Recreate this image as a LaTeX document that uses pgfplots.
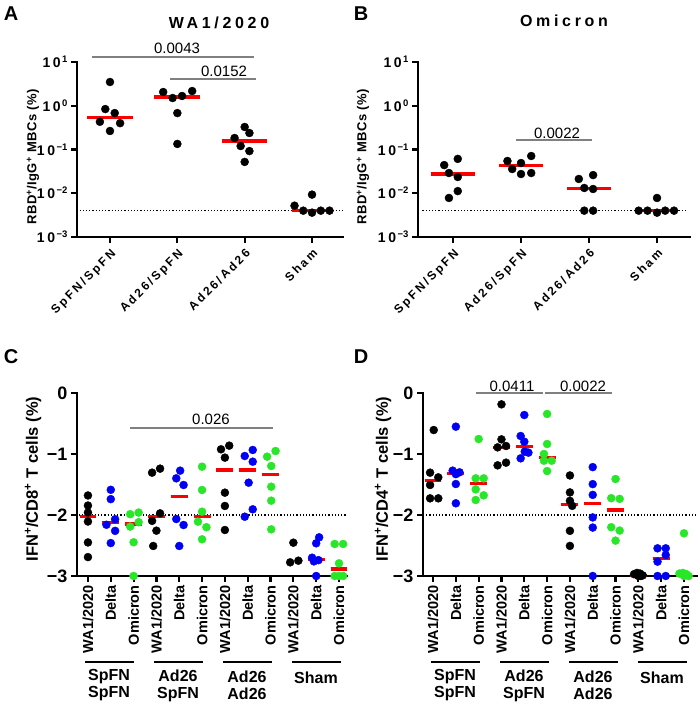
\documentclass[border=0pt]{standalone}
\usepackage{fontspec}
\setmainfont{Liberation Sans}
\newfontfamily\spfont[LetterSpace=20]{Liberation Sans}
\newfontfamily\lblfont[LetterSpace=4]{Liberation Sans}
\newfontfamily\ttlfont[LetterSpace=23]{Liberation Sans}
\usepackage{pgfplots}
\pgfplotsset{compat=1.18}

\definecolor{mblue}{RGB}{0,0,245}
\definecolor{mgreen}{RGB}{40,230,40}
\definecolor{mred}{RGB}{250,0,0}
\definecolor{sgray}{RGB}{128,128,128}

\newcommand{\med}[3]{\addplot[mred, line width=3.3pt, forget plot] coordinates {(#1,#3) (#2,#3)};}
\newcommand{\dec}[1]{\mbox{\fontsize{14}{16}\selectfont\bfseries 1\hspace{2.5pt}0\raisebox{5pt}{\fontsize{9.5}{10}\selectfont\,#1}}}

\pgfplotsset{
  mypanel/.style={
    scale only axis, anchor=south west, clip=false,
    axis x line*=bottom, axis y line*=left,
    axis line style={line width=2.4pt, -, line cap=rect},
    every tick/.style={black, line width=2.2pt},
    tick align=outside, major tick length=6pt,
  },
  myAB/.style={mypanel,
    ytick={1e-3,1e-2,1e-1,1,10},
    yticklabels={\dec{−3},\dec{−2},\dec{−1},\dec{0},\dec{1}},
    xtick={0,1,2,3},
    xticklabels={SpFN/SpFN,Ad26/SpFN,Ad26/Ad26,Sham},
    xticklabel style={rotate=45, anchor=north east, font=\fontsize{12}{14}\selectfont\spfont\bfseries},
    height=175pt,
  },
  myCD/.style={mypanel,
    ymin=-3, ymax=0, ytick={-3,-2,-1,0},
    yticklabels={−3,−2,−1,0},
    yticklabel style={font=\fontsize{18}{20}\selectfont\bfseries},
    xtick={0,...,11},
    xticklabels={WA1/2020,Delta,Omicron,WA1/2020,Delta,Omicron,WA1/2020,Delta,Omicron,WA1/2020,Delta,Omicron},
    xticklabel style={rotate=90, anchor=east, font=\fontsize{14.5}{16}\selectfont\bfseries},
    height=183pt,
  },
}

\begin{document}
\begin{tikzpicture}[x=1pt,y=1pt]
\useasboundingbox (0pt,0pt) rectangle (700pt,706pt);

% ---------- A ----------
\begin{axis}[myAB, ymode=log, ymin=1e-3, ymax=10, yminorticks=false,
  at={(77pt,469pt)}, width=266pt, xmin=-0.49, xmax=3.46]
\addplot[black, dotted, line width=1.2pt, forget plot] coordinates {(-0.45,0.004) (3.45,0.004)};
\addplot[only marks, mark=*, mark size=4pt, black] coordinates {
 (0,3.49) (-0.07,0.84) (0.07,0.68) (-0.15,0.43) (0.15,0.40) (0,0.265)
 (0.79,2.06) (0.93,1.5) (1.07,1.67) (1.22,2.17) (1,0.68) (1,0.134)
 (2,0.327) (2.07,0.238) (1.85,0.183) (1.94,0.12) (2.07,0.092) (2,0.052)
 (2.74,0.0052) (2.87,0.004) (3,0.0093) (3,0.0036) (3.13,0.004) (3.26,0.004)};
\med{-0.34}{0.34}{0.54}
\med{0.66}{1.34}{1.58}
\med{1.67}{2.33}{0.156}
\med{2.7}{3.3}{0.004}
\end{axis}

% ---------- B ----------
\begin{axis}[myAB, ymode=log, ymin=1e-3, ymax=10, yminorticks=false,
  at={(418pt,469pt)}, width=272pt, xmin=-0.515, xmax=3.485]
\addplot[black, dotted, line width=1.2pt, forget plot] coordinates {(-0.45,0.004) (3.45,0.004)};
\addplot[only marks, mark=*, mark size=4pt, black] coordinates {
 (-0.13,0.044) (0.07,0.061) (-0.06,0.029) (0.07,0.0235) (0.07,0.0112) (-0.06,0.0078)
 (0.8,0.0546) (0.87,0.0358) (1,0.049) (1.15,0.071) (1,0.0275) (1.15,0.029)
 (1.85,0.0212) (2.06,0.026) (1.93,0.0132) (2.06,0.0125) (1.93,0.004) (2.06,0.004)
 (2.73,0.004) (2.86,0.004) (3,0.0078) (3,0.0036) (3.12,0.004) (3.25,0.004)};
\med{-0.33}{0.33}{0.0275}
\med{0.67}{1.33}{0.0427}
\med{1.67}{2.33}{0.013}
\med{2.7}{3.3}{0.004}
\end{axis}

% ---------- C ----------
\begin{axis}[myCD, at={(77pt,130pt)}, width=270pt, xmin=-0.48, xmax=11.35]
\addplot[black, dotted, line width=1.2pt, forget plot] coordinates {(-0.4,-2) (11.35,-2)};
\addplot[only marks, mark=*, mark size=4pt, black] coordinates {
 (0,-1.68) (0,-1.845) (0,-1.96) (0,-2.107) (0,-2.45) (0,-2.69)
 (2.81,-1.306) (3.16,-1.24) (3.16,-1.973) (2.81,-2.096) (3,-2.257) (2.86,-2.508)
 (5.83,-0.923) (6.19,-0.863) (6,-1.06) (6,-1.634) (6,-1.852) (6,-2.246)
 (9,-2.454) (9.22,-2.749) (8.86,-2.776)};
\addplot[only marks, mark=*, mark size=4pt, mblue] coordinates {
 (1,-1.587) (1,-1.74) (0.81,-2.16) (1.19,-2.07) (1.19,-2.26) (1,-2.46)
 (4.04,-1.273) (3.87,-1.399) (4.19,-1.508) (3.87,-2.066) (4.19,-2.164) (4,-2.508)
 (7.22,-0.934) (6.87,-1.033) (7.22,-1.126) (7.04,-1.47) (7.22,-1.907) (6.87,-2.028)
 (10.13,-2.366) (10,-2.464) (9.82,-2.70) (10.1,-2.74) (9.9,-2.76) (10,-3.0)};
\addplot[only marks, mark=*, mark size=4pt, mgreen] coordinates {
 (1.85,-1.987) (2.22,-1.96) (1.85,-2.19) (2.22,-2.118) (2,-2.447) (2,-3.0)
 (5,-1.208) (5,-1.59) (5,-1.946) (4.82,-2.11) (5.19,-2.2) (5,-2.398)
 (8.22,-0.951) (7.85,-1.044) (8.03,-1.197) (8.03,-1.536) (8.03,-1.765) (8.03,-2.235)
 (10.81,-2.475) (11.18,-2.475) (11,-2.792) (10.81,-3) (11,-3) (11.18,-3)};
\med{-0.37}{0.37}{-2.025}
\med{0.63}{1.37}{-2.118}
\med{1.63}{2.37}{-2.146}
\med{2.63}{3.37}{-2.03}
\med{3.63}{4.37}{-1.7}
\med{4.63}{5.37}{-2.028}
\med{5.63}{6.37}{-1.262}
\med{6.63}{7.37}{-1.262}
\med{7.63}{8.37}{-1.333}
\med{9.63}{10.37}{-2.727}
\med{10.63}{11.37}{-2.885}
\end{axis}

% ---------- D ----------
\begin{axis}[myCD, at={(423pt,130pt)}, width=274pt, xmin=-0.44, xmax=11.57]
\addplot[black, dotted, line width=1.2pt, forget plot] coordinates {(-0.3,-2) (11.5,-2)};
\addplot[only marks, mark=*, mark size=4pt, black] coordinates {
 (0.03,-0.607) (-0.13,-1.306) (0.23,-1.383) (-0.13,-1.508) (-0.13,-1.727) (0.23,-1.727)
 (3,-0.186) (3,-0.76) (2.83,-0.891) (3.2,-0.869) (2.83,-1.186) (3.2,-1.142)
 (6,-1.352) (6,-1.63) (6,-1.768) (6.1,-1.85) (6,-2.26) (6,-2.507)
 (8.81,-2.97) (8.94,-2.95) (9.07,-2.96) (9.19,-2.99) (9,-3) (9.1,-3)};
\addplot[only marks, mark=*, mark size=4pt, mblue] coordinates {
 (1,-0.552) (0.86,-1.273) (1.16,-1.30) (1.0,-1.33) (1,-1.492) (1,-1.808)
 (4,-0.361) (3.84,-0.705) (4,-0.798) (4.02,-0.96) (4.18,-0.978) (3.84,-1.071)
 (7,-1.215) (7,-1.494) (7,-1.67) (7,-2.04) (7,-2.206) (7,-3.0)
 (9.84,-2.546) (10.2,-2.546) (10.2,-2.656) (9.84,-2.765) (9.84,-3) (10.2,-3)};
\addplot[only marks, mark=*, mark size=4pt, mgreen] coordinates {
 (2,-0.754) (1.87,-1.399) (2.22,-1.399) (1.87,-1.58) (2.22,-1.678) (1.87,-1.754)
 (5,-0.344) (5,-0.836) (4.86,-1.0) (5.2,-1.11) (4.86,-1.11) (5,-1.279)
 (8,-1.41) (7.81,-1.724) (8.18,-1.735) (7.81,-2.2) (8.18,-2.255) (8,-2.42)
 (11,-2.3) (10.8,-2.96) (10.95,-2.95) (11.1,-2.97) (11.2,-3) (11,-3)};
\med{-0.37}{0.37}{-1.437}
\med{0.63}{1.37}{-1.317}
\med{1.63}{2.37}{-1.481}
\med{2.63}{3.37}{-0.896}
\med{3.63}{4.37}{-0.88}
\med{4.63}{5.37}{-1.055}
\med{5.63}{6.37}{-1.823}
\med{6.63}{7.37}{-1.817}
\med{7.63}{8.37}{-1.916}
\med{8.63}{9.37}{-2.99}
\med{9.63}{10.37}{-2.71}
\med{10.63}{11.37}{-2.99}
\end{axis}

% ---------- panel letters, titles, axis titles ----------
\begin{scope}[every node/.style={inner sep=0pt}]
\node[font=\fontsize{20}{22}\selectfont\bfseries] at (11pt,692pt) {A};
\node[font=\fontsize{20}{22}\selectfont\bfseries] at (361pt,692pt) {B};
\node[font=\fontsize{20}{22}\selectfont\bfseries] at (11pt,349pt) {C};
\node[font=\fontsize{20}{22}\selectfont\bfseries] at (361pt,349pt) {D};
\node[font=\fontsize{16}{18}\selectfont\ttlfont\bfseries] at (219pt,683pt) {WA1/2020};
\node[font=\fontsize{16}{18}\selectfont\ttlfont\bfseries] at (564pt,685pt) {Omicron};
\node[rotate=90, font=\fontsize{13}{15}\selectfont\lblfont\bfseries] at (33pt,549pt) {RBD\textsuperscript{+}/IgG\textsuperscript{+} MBCs (\%)};
\node[rotate=90, font=\fontsize{13}{15}\selectfont\lblfont\bfseries] at (363pt,549pt) {RBD\textsuperscript{+}/IgG\textsuperscript{+} MBCs (\%)};
\node[rotate=90, font=\fontsize{16.5}{18}\selectfont\bfseries] at (33pt,227pt) {IFN\textsuperscript{+}/CD8\textsuperscript{+} T cells (\%)};
\node[rotate=90, font=\fontsize{16.5}{18}\selectfont\bfseries] at (383pt,227pt) {IFN\textsuperscript{+}/CD4\textsuperscript{+} T cells (\%)};

% significance bars
\draw[sgray, line width=1.3pt] (92pt,649pt) -- (254pt,649pt);
\draw[sgray, line width=1.3pt] (170pt,627pt) -- (256pt,627pt);
\draw[sgray, line width=1.3pt] (516pt,566pt) -- (592pt,566pt);
\draw[sgray, line width=1.3pt] (130pt,278pt) -- (273pt,278pt);
\draw[sgray, line width=1.3pt] (476pt,313pt) -- (543pt,313pt);
\draw[sgray, line width=1.3pt] (545pt,313pt) -- (612pt,313pt);
\node[font=\fontsize{15}{17}\selectfont] at (177pt,658pt) {0.0043};
\node[font=\fontsize{15}{17}\selectfont] at (224pt,635pt) {0.0152};
\node[font=\fontsize{15}{17}\selectfont] at (557pt,573pt) {0.0022};
\node[font=\fontsize{15}{17}\selectfont] at (211pt,287pt) {0.026};
\node[font=\fontsize{15}{17}\selectfont] at (512pt,320pt) {0.0411};
\node[font=\fontsize{15}{17}\selectfont] at (583pt,320pt) {0.0022};

% group brackets under C and D
\foreach \a/\b in {85/134,154/203,223/272,292/341,431/480,500/549,569/618,638/687}
  \draw[black, line width=2.7pt] (\a pt,44pt) -- (\b pt,44pt);
\foreach \x/\t in {109/{SpFN\\SpFN},178/{Ad26\\SpFN},247/{Ad26\\Ad26},455/{SpFN\\SpFN},524/{Ad26\\SpFN},593/{Ad26\\Ad26}}
  \node[align=center, font=\fontsize{16}{17}\selectfont\bfseries] at (\x pt,20.5pt) {\t};
\node[font=\fontsize{16}{17}\selectfont\bfseries] at (316pt,28pt) {Sham};
\node[font=\fontsize{16}{17}\selectfont\bfseries] at (662pt,28pt) {Sham};
\end{scope}
\end{tikzpicture}
\end{document}
